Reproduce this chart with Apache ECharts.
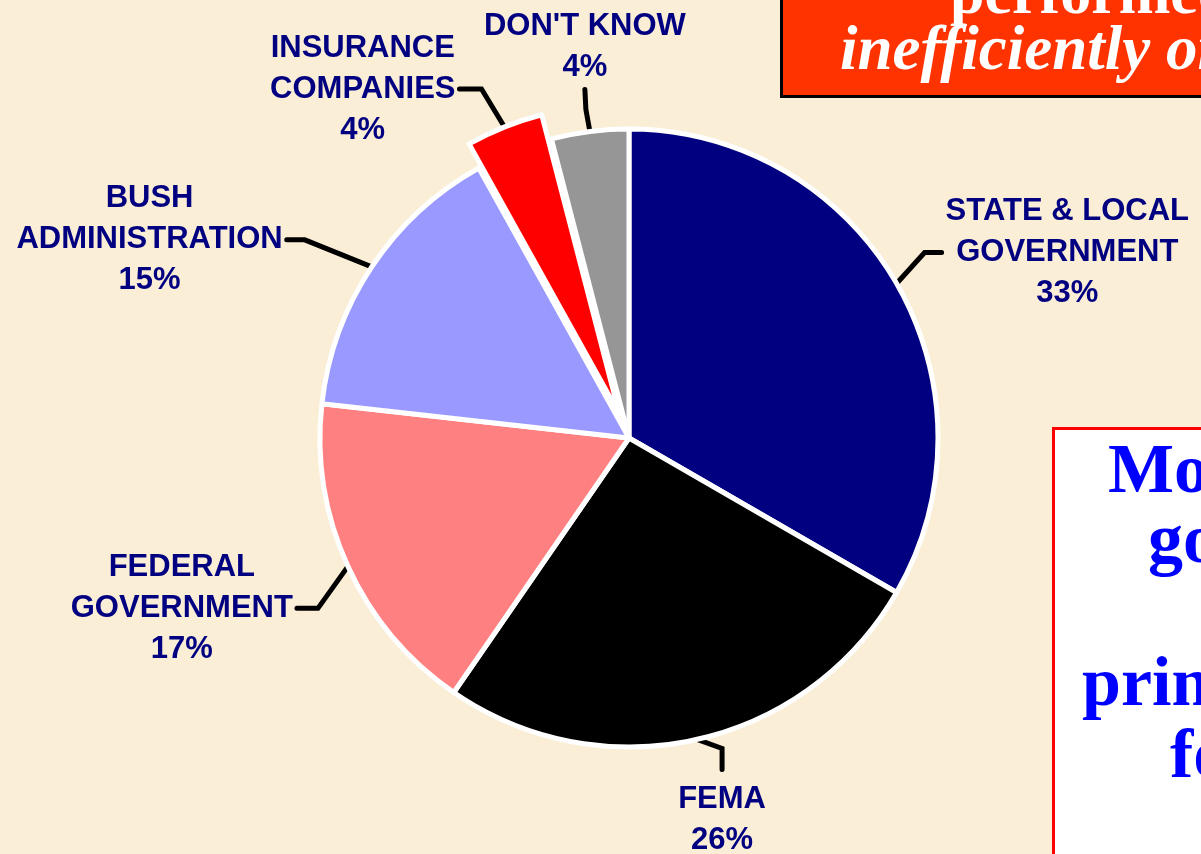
<!DOCTYPE html>
<html>
<head>
<meta charset="utf-8">
<title>Who performed inefficiently</title>
<script src="https://cdn.jsdelivr.net/npm/echarts@6/dist/echarts.min.js"></script>
<style>
  html, body { margin: 0; padding: 0; background: #faeed6; }
  #chart { width: 1201px; height: 854px; }
</style>
</head>
<body>
<div id="chart"></div>
<script>
// slices, clockwise from 12 o'clock
var categories = ['STATE & LOCAL\nGOVERNMENT', 'FEMA', 'FEDERAL\nGOVERNMENT', 'BUSH\nADMINISTRATION', 'INSURANCE\nCOMPANIES', "DON'T KNOW"];
var shares = [33, 26, 17, 15, 4, 4];
var pulledOut = 'INSURANCE\nCOMPANIES';

var sliceColors = ['#000080', '#000000', '#ff8080', '#9999ff', '#ff0000', '#969696'];
// leader line: first bend and tail, relative to the slice edge point
var leaders = [
  [[28, -31], [17, 0]],
  [[25, 9], [0, 21]],
  [[-30, 42], [-21, 0]],
  [[-67, -27], [-18, 0]],
  [[-23, -38], [-22, 0]],
  [[-4, -22], [-1, -20]]
];

var pieCenter = [629, 438];
var pieRadius = 309;
var pullDistance = 26;

var chart = echarts.init(document.getElementById('chart'));

// centre of the pulled-out slice: moved along its middle angle
var total = shares.reduce(function (s, v) { return s + v; }, 0);
var pullIndex = categories.indexOf(pulledOut);
var before = 0;
for (var i = 0; i < pullIndex; i++) before += shares[i];
var midAngle = (before + shares[pullIndex] / 2) / total * 2 * Math.PI;
var pulledCenter = [
  pieCenter[0] + pullDistance * Math.sin(midAngle),
  pieCenter[1] - pullDistance * Math.cos(midAngle)
];

var hidden = {
  itemStyle: { color: 'rgba(0,0,0,0)', borderWidth: 0 },
  label: { show: false },
  labelLine: { show: false }
};

function sliceData(showPulled) {
  return categories.map(function (name, i) {
    var item = { name: name, value: shares[i], itemStyle: { color: sliceColors[i] } };
    if ((name === pulledOut) !== showPulled) {
      item.itemStyle = hidden.itemStyle;
      item.label = hidden.label;
      item.labelLine = hidden.labelLine;
    }
    return item;
  });
}

function placeLabel(p) {
  var pts = p.labelLinePoints;
  var lead = leaders[p.dataIndex];
  if (!pts || !lead) return {};
  var a = pts[0];
  var b = [a[0] + lead[0][0], a[1] + lead[0][1]];
  var c = [b[0] + lead[1][0], b[1] + lead[1][1]];
  var w = p.labelRect.width;
  if (Math.abs(lead[1][0]) > Math.abs(lead[1][1])) {
    var sx = lead[1][0] < 0 ? -1 : 1;
    return {
      x: c[0] + sx * (w / 2 + 4), y: c[1],
      align: 'center', verticalAlign: 'middle',
      labelLinePoints: [a, b, c]
    };
  }
  var sy = lead[1][1] < 0 ? -1 : 1;
  return {
    x: c[0], y: c[1] + (sy < 0 ? -2 : 10),
    align: 'center', verticalAlign: sy < 0 ? 'bottom' : 'top',
    labelLinePoints: [a, b, c]
  };
}

var pieBase = {
  type: 'pie',
  radius: pieRadius,
  startAngle: 90,
  clockwise: true,
  silent: true,
  avoidLabelOverlap: false,
  itemStyle: { borderColor: '#fff', borderWidth: 5 },
  label: {
    show: true,
    position: 'outside',
    formatter: '{b}\n{c}%',
    color: '#000080',
    fontFamily: '"Liberation Sans", Arial, sans-serif',
    fontWeight: 'bold',
    fontSize: 31,
    lineHeight: 41
  },
  labelLine: {
    show: true,
    length: 30,
    length2: 15,
    lineStyle: { color: '#000', width: 5, cap: 'round' }
  },
  labelLayout: placeLabel,
  emphasis: { disabled: true }
};

var serifFont = '"Liberation Serif", "Times New Roman", serif';

var option = {
  backgroundColor: '#faeed6',
  animation: false,
  graphic: [
    {
      type: 'rect',
      shape: { x: 781.5, y: -10, width: 440, height: 106.5 },
      style: { fill: '#ff3300', stroke: '#000', lineWidth: 3 }
    },
    {
      type: 'text',
      style: { text: 'performed', x: 950, y: -3, verticalAlign: 'middle', fill: '#fff',
               font: 'bold 62px ' + serifFont }
    },
    {
      type: 'text',
      style: { text: 'inefficiently or', x: 840, y: 53, verticalAlign: 'middle', fill: '#fff',
               font: 'italic bold 63px ' + serifFont }
    },
    {
      type: 'rect',
      shape: { x: 1053.5, y: 428.5, width: 200, height: 500 },
      style: { fill: '#fff', stroke: '#ff0000', lineWidth: 3 }
    },
    {
      type: 'text',
      style: { text: 'Most', x: 1108, y: 474, verticalAlign: 'middle', fill: '#0000ff',
               font: 'bold 70px ' + serifFont }
    },
    {
      type: 'text',
      style: { text: 'government', x: 1148, y: 544, verticalAlign: 'middle', fill: '#0000ff',
               font: 'bold 70px ' + serifFont }
    },
    {
      type: 'text',
      style: { text: 'primarily', x: 1082, y: 687, verticalAlign: 'middle', fill: '#0000ff',
               font: 'bold 70px ' + serifFont }
    },
    {
      type: 'text',
      style: { text: 'for', x: 1170, y: 759, verticalAlign: 'middle', fill: '#0000ff',
               font: 'bold 70px ' + serifFont }
    }
  ],
  series: [
    Object.assign({}, pieBase, { name: 'pie', center: pieCenter, data: sliceData(false) }),
    Object.assign({}, pieBase, { name: 'pulled', center: pulledCenter, data: sliceData(true) })
  ]
};

chart.setOption(option);
</script>
</body>
</html>
